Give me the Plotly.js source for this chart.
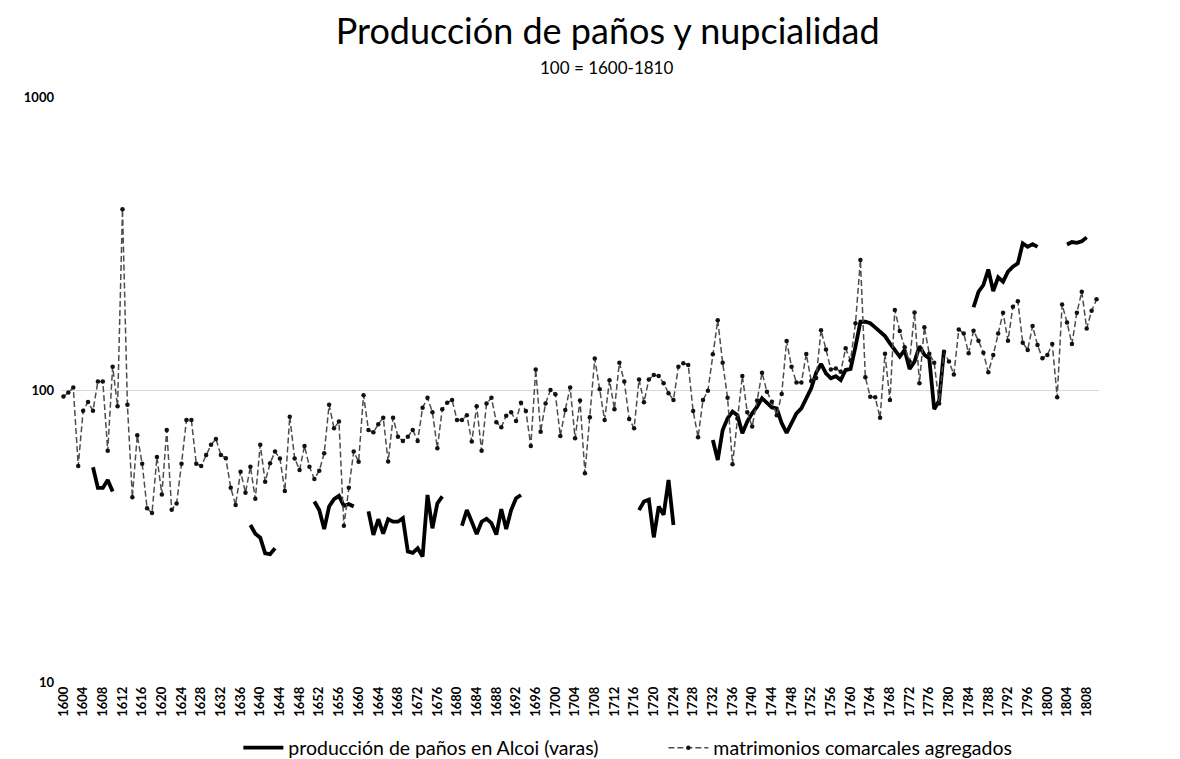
<!DOCTYPE html>
<html>
<head>
<meta charset="utf-8">
<script src="https://cdn.plot.ly/plotly-3.0.1.min.js"></script>
<style>
  html, body { margin: 0; padding: 0; background: #fff; }
  #chart { width: 1180px; height: 759px; }
</style>
</head>
<body>
<div id="chart"></div>
<script>
// ---- DATA ----
const firstYear = 1600;
const lastYear = 1810;

// matrimonios comarcales agregados (index 100 = 1600-1810), one value per year 1600..1810
const matrimonios = [
  95, 98, 102, 55, 85, 91, 85, 107, 107, 62,            // 1600s
  120, 88, 414, 89, 43, 70, 56, 39.5, 38, 59,           // 1610s
  44, 73, 39, 41, 56, 79, 79, 56, 55, 60,               // 1620s
  65, 68, 60, 58.5, 46.4, 40.5, 52.6, 44.6, 54.7, 42.5, // 1630s
  65, 48.6, 56.2, 61.6, 58.4, 45.2, 81, 58.4, 53.3, 64.4, // 1640s
  54.7, 49.7, 53, 60.8, 89, 74, 78, 34.4, 46.4, 61.6,   // 1650s
  56.9, 96, 73, 71.7, 76.4, 80.4, 57, 80.4, 69.3, 67,   // 1660s
  69.3, 73, 67, 87, 94, 84, 63.3, 86, 90.5, 92.4,       // 1670s
  79, 79, 82, 66.7, 88, 62, 90, 94, 77.6, 74.6,         // 1680s
  81.7, 84, 78.4, 90.5, 84.8, 64.4, 117.6, 72, 90, 100, // 1690s
  96.7, 69.7, 85.5, 102, 68.4, 92, 52, 80.7, 128, 100.5, // 1700s
  79, 108, 86, 124, 107, 79.6, 74, 108.7, 90.8, 108.7,  // 1710s
  112.5, 111.7, 105.4, 97.5, 92.4, 120, 123.4, 121.8, 84.8, 69, // 1720s
  92.4, 99.5, 132.4, 173, 124, 94, 55.8, 80, 111.7, 84, // 1730s
  75, 92, 114.6, 98.7, 91.2, 82, 96.9, 147, 120, 106,   // 1740s
  106, 132.7, 107.4, 110, 160, 137.6, 117.5, 118.5, 115.5, 138.8, // 1750s
  126, 169, 278, 110.5, 94.9, 94.4, 80.4, 133, 92.4, 187.6, // 1760s
  159, 140, 125, 184, 105.4, 163.7, 133, 124, 90, 135,  // 1770s
  125, 113, 161, 156, 133.4, 159.4, 147.3, 134, 114.9, 131.7, // 1780s
  156, 183.6, 147.3, 192.6, 201, 145, 137, 165.4, 142.4, 128.3, // 1790s
  131.7, 143.6, 94.4, 196, 170, 143.6, 183.6, 216.4, 162.3, 186.5, // 1800s
  204                                                   // 1810
];

// producción de paños en Alcoi (varas), null = no data
const produccion = [
  null, null, null, null, null, null, 54.5, 46.3, 46.3, 49.3, // 1600s
  45, null, null, null, null, null, null, null, null, null,   // 1610s
  null, null, null, null, null, null, null, null, null, null, // 1620s
  null, null, null, null, null, null, null, null, 34.6, 32.3, // 1630s
  31.3, 27.7, 27.5, 28.8, null, null, null, null, null, null, // 1640s
  null, 41.6, 38.9, 33.5, 40, 42.4, 43.5, 40.2, 40.8, 40,     // 1650s
  null, null, 38.5, 32, 36.2, 32.3, 36.2, 35.5, 35.5, 36.5,   // 1660s
  28.1, 27.8, 28.8, 27, 43.8, 33.7, 41, 43.3, null, null,     // 1670s
  null, 34.4, 38.9, 35.5, 32.2, 35.5, 36.3, 35.1, 32.1, 39.2, // 1680s
  33.5, 38.9, 42.7, 43.8, null, null, null, null, null, null, // 1690s
  null, null, null, null, null, null, null, null, null, null, // 1700s
  null, null, null, null, null, null, null, 38.9, 41.6, 42.2, // 1710s
  31.4, 40, 37.5, 49.3, 34.6, null, null, null, null, null,   // 1720s
  null, null, 67.5, 57.7, 73, 80, 84.4, 82, 71.2, 78,         // 1730s
  83.2, 87.7, 93.7, 90, 87.2, 86.6, 77, 71.4, 77, 83.2,       // 1740s
  86.6, 93.7, 101.4, 114.6, 122.7, 114, 109.6, 111.5, 108.2, 117, // 1750s
  118, 140.7, 171, 171, 169, 163.7, 158, 152.8, 144.3, 137,   // 1760s
  130, 137, 118, 125, 141, 132, 128, 86, 92, 137,             // 1770s
  null, null, null, null, null, 191.7, 216.4, 228.3, 258, 217.6, // 1780s
  242.5, 234.4, 253.5, 263.7, 270.6, 316.6, 308.3, 315, 308, null, // 1790s
  null, null, null, null, 314, 320, 318, 322, 332, null,      // 1800s
  null                                                        // 1810
];

const yTickVals = [10, 100, 1000];
const yTickText = ['10', '100', '1000'];

const titleText = 'Producción de paños y nupcialidad';
const subtitleText = '100 = 1600-1810';
const nameProd = 'producción de paños en Alcoi (varas)';
const nameMatr = 'matrimonios comarcales agregados';

// ---- BUILD ----
const years = [];
for (let y = firstYear; y <= lastYear; y++) years.push(y);

const FONT = 'Lato, "Open Sans", "DejaVu Sans", sans-serif';

const traces = [
  {
    x: years, y: produccion, name: nameProd, type: 'scatter', mode: 'lines',
    connectgaps: false,
    line: { color: '#000000', width: 3.8 }
  },
  {
    x: years, y: matrimonios, name: nameMatr, type: 'scatter', mode: 'lines+markers',
    line: { color: '#4d4d4d', width: 1.5, dash: '6px,3px' },
    marker: { color: '#111111', size: 4.5, symbol: 'circle' }
  }
];

const layout = {
  width: 1180, height: 759,
  paper_bgcolor: '#ffffff', plot_bgcolor: '#ffffff',
  margin: { l: 61, r: 81, t: 97, b: 76, autoexpand: false },
  font: { family: FONT, color: '#000000' },
  title: {
    text: titleText,
    font: { family: FONT, size: 36, color: '#000000' },
    xref: 'container', x: 0.515, xanchor: 'center',
    yref: 'container', y: 0.958, yanchor: 'middle'
  },
  annotations: [{
    text: subtitleText, showarrow: false,
    xref: 'paper', x: 0.526, xanchor: 'center',
    yref: 'paper', y: 1.0495, yanchor: 'middle',
    font: { family: FONT, size: 17, color: '#000000' }
  }],
  xaxis: {
    type: 'linear', range: [firstYear - 0.5, lastYear + 0.5],
    tickmode: 'linear', tick0: 1600, dtick: 4, tickangle: -90,
    showgrid: false, zeroline: false, showline: false, ticks: '',
    automargin: false,
    tickfont: { family: FONT, size: 13, color: '#000000', weight: 'bold' },
    fixedrange: true
  },
  yaxis: {
    type: 'log', range: [0.9995, 3.0005],
    tickmode: 'array', tickvals: yTickVals, ticktext: yTickText,
    showgrid: true, gridcolor: '#d9d9d9', gridwidth: 1,
    zeroline: false, showline: false, ticks: '',
    automargin: false,
    ticklabelstandoff: 6,
    tickfont: { family: FONT, size: 13, color: '#000000', weight: 'bold' },
    fixedrange: true
  },
  showlegend: true,
  legend: {
    orientation: 'h', xref: 'container', x: 0.202, xanchor: 'left',
    yref: 'container', y: 0.0145, yanchor: 'middle',
    font: { family: FONT, size: 19.5, color: '#000000' },
    itemwidth: 40, tracegroupgap: 0, entrywidth: 370
  }
};

Plotly.newPlot('chart', traces, layout, { displayModeBar: false, staticPlot: true });
</script>
</body>
</html>
